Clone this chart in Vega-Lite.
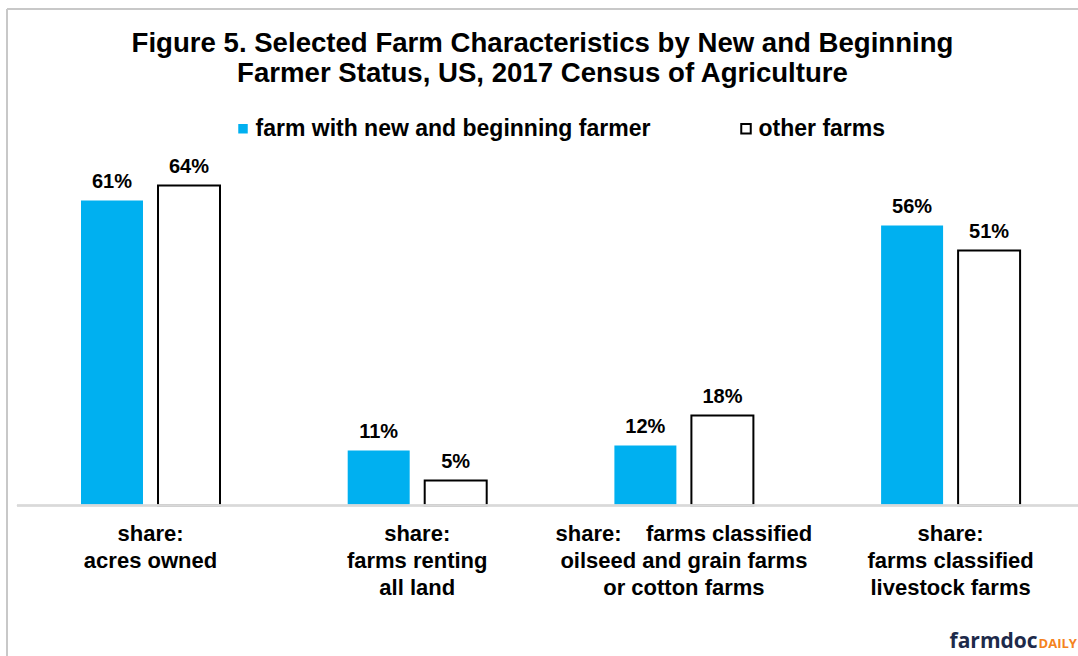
{
  "$schema": "https://vega.github.io/schema/vega-lite/v6.json",
  "autosize": {"type": "none"},
  "padding": {"left": 7, "top": 9, "right": 0, "bottom": 0},
  "width": 1071,
  "height": 647,
  "background": "white",
  "title": {
    "text": ["Figure 5. Selected Farm Characteristics by New and Beginning", "Farmer Status, US, 2017 Census of Agriculture"],
    "font": "Liberation Sans",
    "fontSize": 27.6,
    "fontWeight": "bold",
    "color": "#000000",
    "lineHeight": 30,
    "anchor": "middle",
    "offset": -80
  },
  "config": {"view": {"stroke": null}, "font": "Liberation Sans"},
  "data": {
    "values": [
      {"category": "share:|acres owned", "series": "farm with new and beginning farmer", "value": 0.61},
      {"category": "share:|acres owned", "series": "other farms", "value": 0.64},
      {"category": "share:|farms renting|all land", "series": "farm with new and beginning farmer", "value": 0.11},
      {"category": "share:|farms renting|all land", "series": "other farms", "value": 0.05},
      {"category": "share:\u00a0\u00a0\u00a0\u00a0farms classified|oilseed and grain farms|or cotton farms", "series": "farm with new and beginning farmer", "value": 0.12},
      {"category": "share:\u00a0\u00a0\u00a0\u00a0farms classified|oilseed and grain farms|or cotton farms", "series": "other farms", "value": 0.18},
      {"category": "share:|farms classified|livestock farms", "series": "farm with new and beginning farmer", "value": 0.56},
      {"category": "share:|farms classified|livestock farms", "series": "other farms", "value": 0.51}
    ]
  },
  "resolve": {"scale": {"x": "independent"}},
  "layer": [
    {
      "layer": [
        {
          "mark": {"type": "bar", "strokeWidth": 2},
          "encoding": {
            "x": {"field": "category", "type": "nominal", "sort": null, "axis": null,
                  "scale": {"paddingInner": 0.4788, "paddingOuter": 0.2473, "align": 0.561}},
            "xOffset": {"field": "series", "sort": null, "scale": {"paddingInner": 0.195, "paddingOuter": 0}},
            "y": {"field": "value", "type": "quantitative", "scale": {"domain": [-0.301, 0.993], "nice": false, "zero": false}, "axis": null},
            "fill": {
              "field": "series", "type": "nominal", "sort": null,
              "scale": {"domain": ["farm with new and beginning farmer", "other farms"], "range": ["#00b0f0", "#ffffff"]},
              "legend": {
                "orient": "none", "legendX": 224.5, "legendY": 108, "direction": "horizontal", "title": null,
                "symbolType": "square", "symbolSize": 90, "symbolStrokeWidth": 2, "symbolOpacity": 1,
                "labelFont": "Liberation Sans", "labelFontSize": 23, "labelFontWeight": "bold", "labelColor": "#000000",
                "labelLimit": 0, "columnPadding": 84, "labelOffset": 1, "padding": 0
              }
            },
            "stroke": {
              "field": "series", "type": "nominal", "sort": null,
              "scale": {"domain": ["farm with new and beginning farmer", "other farms"], "range": ["transparent", "#000000"]},
              "legend": {
                "orient": "none", "legendX": 224.5, "legendY": 108, "direction": "horizontal", "title": null,
                "symbolType": "square", "symbolSize": 90, "symbolStrokeWidth": 2, "symbolOpacity": 1,
                "labelFont": "Liberation Sans", "labelFontSize": 23, "labelFontWeight": "bold", "labelColor": "#000000",
                "labelLimit": 0, "columnPadding": 84, "labelOffset": 1, "padding": 0
              }
            }
          }
        },
        {
          "mark": {"type": "text", "dy": -13, "baseline": "alphabetic", "font": "Liberation Sans", "fontSize": 20, "fontWeight": "bold", "color": "#000000"},
          "encoding": {
            "x": {"field": "category", "type": "nominal", "sort": null},
            "xOffset": {"field": "series", "sort": null},
            "y": {"field": "value", "type": "quantitative"},
            "text": {"field": "value", "type": "quantitative", "format": ".0%"}
          }
        },
        {
          "transform": [{"filter": "datum.series == 'other farms'"}],
          "mark": {"type": "text", "lineBreak": "|", "baseline": "alphabetic", "align": "center", "font": "Liberation Sans", "fontSize": 22, "fontWeight": "bold", "lineHeight": 27, "color": "#000000"},
          "encoding": {
            "x": {"field": "category", "type": "nominal", "sort": null},
            "y": {"datum": -0.071},
            "text": {"field": "category"}
          }
        },
        {
          "data": {"values": [{"logo": "farmdoc"}]},
          "mark": {"type": "text", "align": "right", "baseline": "alphabetic", "dx": 87, "font": "Open Sans", "fontSize": 21, "fontWeight": "bold", "color": "#1d2a4a"},
          "encoding": {
            "x": {"datum": "share:|farms classified|livestock farms"},
            "y": {"datum": -0.285},
            "text": {"field": "logo"}
          }
        },
        {
          "data": {"values": [{"logo": "DAILY"}]},
          "mark": {"type": "text", "align": "left", "baseline": "alphabetic", "dx": 88, "font": "Open Sans", "fontSize": 13, "fontWeight": "bold", "color": "#f58220"},
          "encoding": {
            "x": {"datum": "share:|farms classified|livestock farms"},
            "y": {"datum": -0.285},
            "text": {"field": "logo"}
          }
        }
      ]
    },
    {
      "layer": [
        {
          "mark": {"type": "rule", "color": "#d9d9d9", "strokeWidth": 1.5},
          "encoding": {
            "x": {"datum": 0.0093, "type": "quantitative", "scale": {"domain": [0, 1], "nice": false}, "axis": null},
            "x2": {"datum": 1},
            "y": {"datum": 0}
          }
        },
        {
          "mark": {"type": "rule", "color": "#c8c8c8", "strokeWidth": 2},
          "encoding": {"y": {"datum": 0.993}}
        },
        {
          "mark": {"type": "rule", "color": "#c8c8c8", "strokeWidth": 2},
          "encoding": {"x": {"datum": 0, "type": "quantitative", "scale": {"domain": [0, 1], "nice": false}, "axis": null}}
        }
      ]
    }
  ]
}
